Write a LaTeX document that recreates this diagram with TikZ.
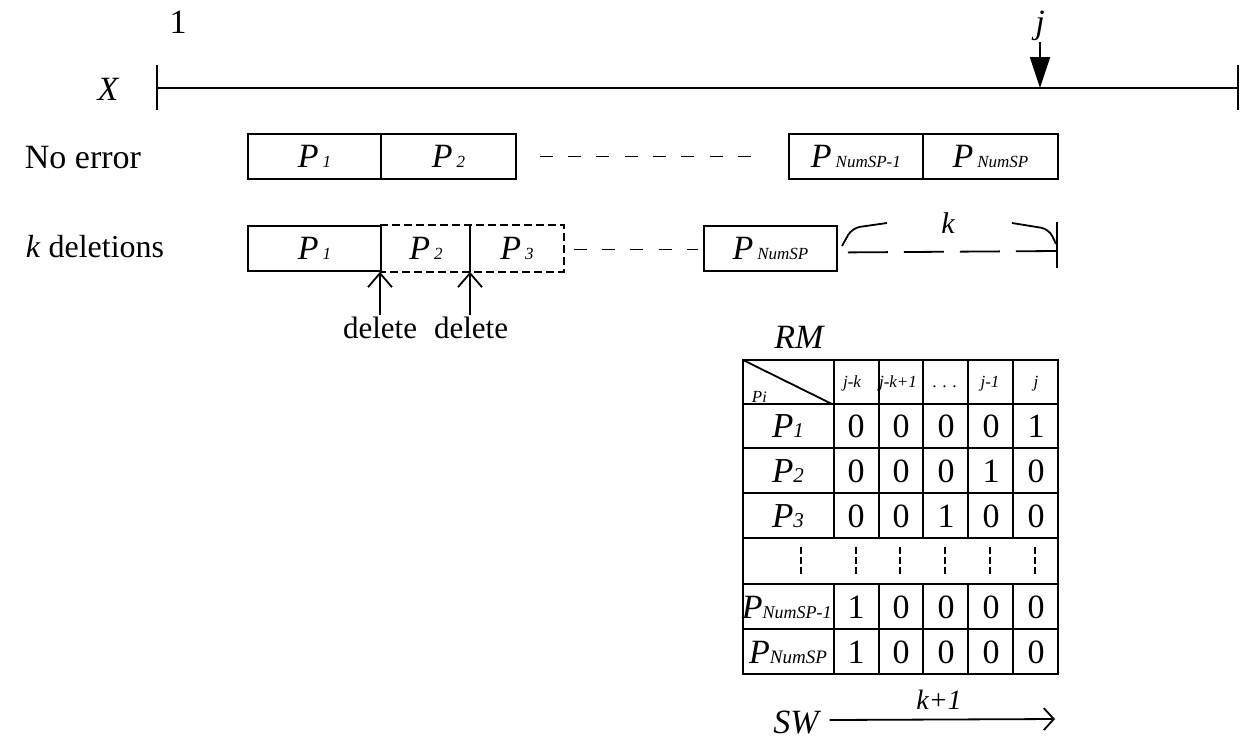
\documentclass[tikz,border=0pt]{standalone}
\usepackage{fontspec}
\setmainfont{Liberation Serif}
\usetikzlibrary{arrows.meta}
\newcommand{\fs}[1]{\fontsize{#1}{#1}\selectfont}
\newcommand{\Psub}[1]{\textit{P}\hspace{4pt}{\fs{17}\textit{#1}}}
\newcommand{\Tsub}[1]{\textit{P}{\fs{21}\textit{#1}}}
\begin{document}
\begin{tikzpicture}[x=1pt,y=-1pt, line width=1.8pt,
  lbl/.style={inner sep=0pt, anchor=base},
  pbox/.style={draw, minimum height=45pt, inner sep=0pt, anchor=north west, font=\fs{34}},
  shortdash/.style={dash pattern=on 13pt off 15.3pt},
  longdash/.style={dash pattern=on 40pt off 16pt},
  boxdash/.style={dash pattern=on 8pt off 4pt},
  barb/.style={-{Straight Barb[length=14pt,width=24pt]}},
  cell/.style={lbl, font=\fs{34}},
  head/.style={lbl, font=\fs{17}\itshape},
]
\useasboundingbox (0,0) rectangle (1247,740);
% top scale
\node[lbl, font=\fs{34}] (one) at (178,33) {1};
\node[lbl, font=\fs{34}\itshape] (X) at (108,100) {X};
\node[lbl, font=\fs{34}\itshape] (j) at (1040,33) {j};
\coordinate (xl) at (157,88);
\coordinate (xr) at (1238,88);
\coordinate (jp) at (1040,88);
\draw (xl) -- (xr);
\draw (157,65) -- (157,110);
\draw (1238,65) -- (1238,110);
\draw[-{Triangle[length=31pt,width=20pt]}] ([yshift=-1pt]j.south) -- (jp);
% no error row
\node[lbl, anchor=base west, font=\fs{34}] (ne) at (24,168) {No error};
\node[pbox, minimum width=133pt] (a1) at (247,133) {\Psub{1}};
\node[pbox, minimum width=135pt] (a2) at (380,133) {\Psub{2}};
\node[pbox, minimum width=134pt] (a3) at (788,133) {\Psub{NumSP-1}};
\node[pbox, minimum width=135pt] (a4) at (922,133) {\Psub{NumSP}};
\draw[shortdash] ([xshift=23pt]a2.east) -- ([xshift=-37pt]a3.west);
% k deletions row
\node[lbl, anchor=base west, font=\fs{32}] (kd) at (25,257) {\textit{k} deletions};
\node[pbox, minimum width=133pt] (b1) at (247,225) {\Psub{1}};
\node[pbox, draw=none, minimum width=90pt] (b2) at (380,225) {\Psub{2}};
\node[pbox, draw=none, minimum width=92pt] (b3) at (470,225) {\Psub{3}};
\draw[boxdash] (b2.north west) -- (b3.north east) -- (b3.south east) -- (b2.south west);
\draw (b3.north west) -- (b3.south west);
\node[pbox, minimum width=133pt] (b4) at (703,225) {\Psub{NumSP}};
\draw[shortdash] ([xshift=10pt,yshift=-1pt]b3.east) -- ([xshift=-5pt,yshift=-1pt]b4.west);
\coordinate (kend) at (1057,251);
\draw[longdash] ([xshift=10pt,yshift=-4pt]b4.east) -- (kend);
\draw (1057,222) -- (1057,268);
\draw[rounded corners=8pt] (842,246) -- (852,228) -- (887,223);
\draw[rounded corners=8pt] (1012,223) -- (1049,229) -- (1056,244);
\node[lbl, font=\fs{30}\itshape] (k) at (948,233) {k};
% delete arrows
\node[lbl, font=\fs{31}] (d1) at (380,338) {delete};
\node[lbl, font=\fs{31}] (d2) at (471,338) {delete};
\coordinate (da1) at (380,315);
\coordinate (da2) at (470,315);
\draw[barb] (da1) -- (b2.south west);
\draw[barb] (da2) -- (b3.south west);
% table
\node[lbl, font=\fs{34}\itshape] (RM) at (799,348) {RM};
\draw (743,360) rectangle (1058,674);
\foreach \y in {404,448,493,538,584,629} \draw (743,\y) -- (1058,\y);
\foreach \x in {834,879,923,968,1013} {\draw (\x,360) -- (\x,538); \draw (\x,584) -- (\x,674);}
\draw (743,360) -- (832,404);
\node[lbl, anchor=base west, font=\fs{17}\itshape] (pi) at (751,402) {P{\fs{16}i}};
\node[head] (h1) at (852,387) {j-k};
\node[head] (h2) at (898,387) {j-k+1};
\node[head] (h3) at (945,387) {.\,\,.\,\,.};
\node[head] (h4) at (990,387) {j-1};
\node[head] (h5) at (1036,387) {j};
% rows
\node[lbl, font=\fs{35}] (r1) at (788,437) {\Tsub{1}};
\node[lbl, font=\fs{35}] (r2) at (788,482) {\Tsub{2}};
\node[lbl, font=\fs{35}] (r3) at (788,527) {\Tsub{3}};
\node[lbl, font=\fs{34}, anchor=base west] (r5) at (741,618) {\textit{P}{\fs{18}\textit{NumSP-1}}};
\node[lbl, font=\fs{34}] (r6) at (788,663) {\textit{P}{\fs{19}\textit{NumSP}}};
\foreach \v [count=\i] in {0,0,0,0,1} {
  \pgfmathsetmacro{\xx}{811+45*\i}
  \node[cell] at (\xx,437.5) {\v};}
\foreach \v [count=\i] in {0,0,0,1,0} {
  \pgfmathsetmacro{\xx}{811+45*\i}
  \node[cell] at (\xx,482) {\v};}
\foreach \v [count=\i] in {0,0,1,0,0} {
  \pgfmathsetmacro{\xx}{811+45*\i}
  \node[cell] at (\xx,527) {\v};}
\foreach \v [count=\i] in {1,0,0,0,0} {
  \pgfmathsetmacro{\xx}{811+45*\i}
  \node[cell] at (\xx,618) {\v};}
\foreach \v [count=\i] in {1,0,0,0,0} {
  \pgfmathsetmacro{\xx}{811+45*\i}
  \node[cell] at (\xx,663) {\v};}
\foreach \x in {801,856,900,945,990,1035}
  \draw[dash pattern=on 7pt off 3pt, line width=1.5pt] (\x,547) -- (\x,575);
% SW arrow
\node[lbl, font=\fs{34}\itshape] (sw) at (796,733) {SW};
\coordinate (swend) at (1055,719);
\draw[-{Straight Barb[length=10pt,width=22pt]}] ([xshift=10pt,yshift=2pt]sw.east) -- (swend);
\node[lbl, font=\fs{28}\itshape] (kp) at (939,709) {k+1};
\end{tikzpicture}
\end{document}
